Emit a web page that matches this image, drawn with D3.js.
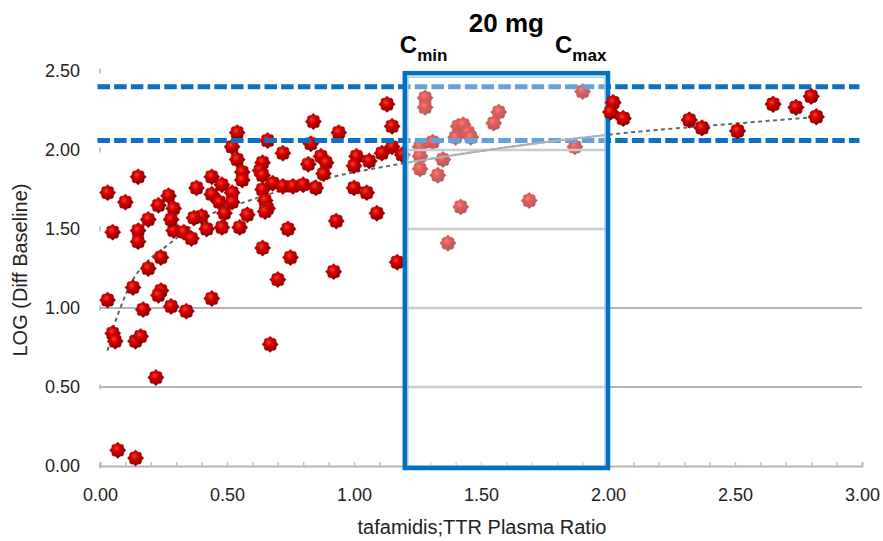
<!DOCTYPE html>
<html>
<head>
<meta charset="utf-8">
<script src="https://cdn.jsdelivr.net/npm/d3@7"></script>
<style>
  body { margin: 0; background: #fff; }
  text { font-family: "Liberation Sans", Arial, sans-serif; }
</style>
</head>
<body>
<div class="canvas"></div>
<script>
// tafamidis:TTR plasma ratio vs LOG(Diff Baseline)
const ratio = [
  0.03, 0.05, 0.03, 0.05, 0.06, 0.07, 0.14, 0.14, 0.16, 0.17, 0.13, 0.24, 0.23, 0.28, 0.34, 0.44,
  0.22, 0.19, 0.24, 0.15, 0.15, 0.29, 0.33, 0.36, 0.42, 0.48, 0.55, 0.15, 0.10, 0.27, 0.23, 0.29,
  0.19, 0.28, 0.38, 0.44, 0.48, 0.44, 0.52, 0.47, 0.52, 0.49, 0.40, 0.37, 0.54, 0.52, 0.54, 0.56,
  0.56, 0.66, 0.84, 0.94, 1.13, 1.15, 1.15, 1.11, 0.83, 0.72, 0.82, 0.87, 0.89, 0.88, 1.01, 1.06,
  1.00, 1.19, 0.64, 0.63, 0.64, 0.68, 0.72, 0.76, 0.80, 0.85, 0.64, 1.00, 1.05, 0.65, 0.66, 0.65,
  0.58, 0.93, 1.09, 0.74, 0.64, 0.75, 0.70, 0.92, 1.17, 0.67,
  1.28, 1.28, 1.57, 1.55, 1.41, 1.43, 1.45, 1.40, 1.46, 1.31, 1.26, 1.26, 1.35, 1.26, 1.33, 1.90,
  1.87, 1.42, 1.69, 1.37,
  2.02, 2.01, 2.06, 2.32, 2.37, 2.51, 2.65, 2.74, 2.80, 2.82
];
const logDiff = [
  1.73, 1.48, 1.05, 0.84, 0.79, 0.10, 0.05, 0.79, 0.82, 0.99, 1.13, 1.11, 1.08, 1.01, 0.98, 1.06,
  0.56, 1.25, 1.32, 1.49, 1.42, 1.49, 1.48, 1.44, 1.50, 1.51, 1.51, 1.83, 1.67, 1.71, 1.65, 1.63,
  1.56, 1.56, 1.76, 1.83, 1.78, 1.72, 1.73, 1.67, 1.67, 1.60, 1.58, 1.57, 2.11, 2.02, 1.94, 1.86,
  1.81, 2.06, 2.18, 2.11, 2.29, 2.15, 2.02, 1.98, 2.04, 1.98, 1.91, 1.96, 1.92, 1.85, 1.96, 1.93,
  1.90, 1.97, 1.92, 1.87, 1.84, 1.79, 1.77, 1.77, 1.78, 1.76, 1.75, 1.76, 1.73, 1.68, 1.63, 1.61,
  1.59, 1.55, 1.60, 1.50, 1.38, 1.32, 1.18, 1.23, 1.29, 0.77,
  2.33, 2.27, 2.24, 2.17, 2.15, 2.16, 2.11, 2.08, 2.08, 2.05, 2.02, 1.96, 1.94, 1.88, 1.84, 2.37,
  2.02, 1.64, 1.68, 1.41,
  2.30, 2.24, 2.20, 2.19, 2.14, 2.12, 2.29, 2.27, 2.34, 2.21
];

// logarithmic trend line
const trendRatio = [0.03, 0.05, 0.08, 0.13, 0.19, 0.26, 0.445, 0.55, 0.89, 1.21, 1.57, 2.02, 2.56, 2.83];
const trendLog   = [0.73, 0.86, 1.00, 1.18, 1.30, 1.39, 1.60, 1.66, 1.82, 1.92, 2.01, 2.10, 2.175, 2.21];

const refLevels = [2.06, 2.40];        // dashed blue reference lines
const doseWindow = [1.2, 2.0];         // 20 mg Cmin .. Cmax
const windowTop = 2.48;

const xTicks = [0, 0.5, 1.0, 1.5, 2.0, 2.5, 3.0];
const yTicks = [0, 0.5, 1.0, 1.5, 2.0, 2.5];
const gridLevels = [0.5, 1.0];
const windowGrid = [0.5, 1.0, 1.5, 2.0];

const width = 883, height = 541;
const svg = d3.select('.canvas')
    .append('svg')
    .attr('width', width)
    .attr('height', height);

const x = d3.scaleLinear().domain([0, 3]).range([100, 862]);
const y = d3.scaleLinear().domain([0, 2.5]).range([466, 71]);
const fmt = d3.format('.2f');

const points = ratio.map((r, i) => ({ r, v: logDiff[i] }));
const trend = trendRatio.map((r, i) => ({ r, v: trendLog[i] }));

// marker gradient
const defs = svg.append('defs');
const grad = defs.append('radialGradient')
    .attr('id', 'gem')
    .attr('cx', '42%').attr('cy', '38%').attr('r', '62%');
grad.append('stop').attr('offset', '0%').attr('stop-color', '#ff3a2a');
grad.append('stop').attr('offset', '35%').attr('stop-color', '#d40000');
grad.append('stop').attr('offset', '75%').attr('stop-color', '#a00000');
grad.append('stop').attr('offset', '100%').attr('stop-color', '#5e0000');

defs.append('clipPath').attr('id', 'win')
  .append('rect')
    .attr('x', x(doseWindow[0]))
    .attr('y', y(windowTop))
    .attr('width', x(doseWindow[1]) - x(doseWindow[0]))
    .attr('height', y(0) - y(windowTop));

const gemPath = 'M0,-8.2L2.4,-6C5,-6.4 6.4,-5 6,-2.4L8.2,0L6,2.4C6.4,5 5,6.4 2.4,6L0,8.2' +
    'L-2.4,6C-5,6.4 -6.4,5 -6,2.4L-8.2,0L-6,-2.4C-6.4,-5 -5,-6.4 -2.4,-6Z';

// gridlines
svg.append('g').selectAll('line')
    .data(gridLevels)
    .enter().append('line')
    .attr('x1', x(0)).attr('x2', x(3))
    .attr('y1', d => y(d)).attr('y2', d => y(d))
    .attr('stroke', '#b4b4b4')
    .attr('stroke-width', 2);

// x axis (minor ticks + labels)
const xMinor = svg.append('g').attr('transform', `translate(0,${y(0)})`)
    .call(d3.axisBottom(x).ticks(30).tickSize(-4).tickFormat(''));
xMinor.select('.domain').attr('stroke', '#b4b4b4').attr('stroke-width', 2);
xMinor.selectAll('.tick line').attr('stroke', '#c0c0c0').attr('stroke-width', 1.5);

const xAxisGroup = svg.append('g').attr('transform', `translate(0,${y(0)})`)
    .call(d3.axisBottom(x).tickValues(xTicks).tickFormat(fmt).tickSize(0).tickPadding(22));
xAxisGroup.select('.domain').remove();
xAxisGroup.selectAll('text')
    .attr('font-size', 18)
    .attr('fill', '#222')
    .style('font-family', '"Liberation Sans", Arial, sans-serif');

// y axis
const yAxisGroup = svg.append('g').attr('transform', `translate(${x(0)},0)`)
    .call(d3.axisLeft(y).tickValues(yTicks).tickFormat(fmt).tickSize(0).tickPadding(20));
yAxisGroup.select('.domain').remove();
yAxisGroup.selectAll('text')
    .attr('font-size', 18)
    .attr('fill', '#222')
    .style('font-family', '"Liberation Sans", Arial, sans-serif');
yAxisGroup.selectAll('.tick').append('line')
    .attr('x1', 0).attr('x2', 0).attr('y1', -3).attr('y2', 2)
    .attr('stroke', '#b4b4b4').attr('stroke-width', 1.5);

// trend line
const line = d3.line()
    .x(d => x(d.r))
    .y(d => y(d.v))
    .curve(d3.curveMonotoneX);

svg.append('path')
    .datum(trend)
    .attr('d', line)
    .attr('fill', 'none')
    .attr('stroke', '#666')
    .attr('stroke-width', 2)
    .attr('stroke-dasharray', '4,3.5');

// points
const drawPoints = (sel, data) => sel.selectAll('path')
    .data(data)
    .enter().append('path')
    .attr('d', gemPath)
    .attr('transform', d => `translate(${x(d.r)},${y(d.v)})`)
    .attr('fill', 'url(#gem)')
    .attr('stroke', '#9a1010')
    .attr('stroke-width', 0.6)
    .attr('stroke-opacity', 0.6);

drawPoints(svg.append('g'), points);

// dashed reference levels
svg.append('g').selectAll('line')
    .data(refLevels)
    .enter().append('line')
    .attr('x1', x(-0.01)).attr('x2', x(2.99))
    .attr('y1', d => y(d)).attr('y2', d => y(d))
    .attr('stroke', '#0f6fc0')
    .attr('stroke-width', 5)
    .attr('stroke-dasharray', '12.5,4.2');

// dose window overlay
const win = svg.append('g');
win.append('rect')
    .attr('x', x(doseWindow[0]))
    .attr('y', y(windowTop))
    .attr('width', x(doseWindow[1]) - x(doseWindow[0]))
    .attr('height', y(0) - y(windowTop))
    .attr('fill', '#fff')
    .attr('fill-opacity', 0.36);

win.selectAll('line.wg')
    .data(windowGrid)
    .enter().append('line')
    .attr('class', 'wg')
    .attr('x1', x(doseWindow[0])).attr('x2', x(doseWindow[1]))
    .attr('y1', d => y(d)).attr('y2', d => y(d))
    .attr('stroke', '#cbcbcb')
    .attr('stroke-width', 2.5);

win.append('path')
    .datum(trend)
    .attr('d', line)
    .attr('clip-path', 'url(#win)')
    .attr('fill', 'none')
    .attr('stroke', '#b0b0b0')
    .attr('stroke-width', 2);

// inner light edge + blue frame
win.append('rect')
    .attr('x', x(doseWindow[0]) + 3)
    .attr('y', y(windowTop) + 3)
    .attr('width', x(doseWindow[1]) - x(doseWindow[0]) - 6)
    .attr('height', y(0) - y(windowTop) - 3)
    .attr('fill', 'none')
    .attr('stroke', '#a9cbe8')
    .attr('stroke-width', 1.5);

win.append('rect')
    .attr('x', x(doseWindow[0]))
    .attr('y', y(windowTop) - 1)
    .attr('width', x(doseWindow[1]) - x(doseWindow[0]))
    .attr('height', y(0) - y(windowTop) + 3)
    .attr('fill', 'none')
    .attr('stroke', '#0070c0')
    .attr('stroke-width', 4.5);

// points just right of the window sit above its frame
drawPoints(svg.append('g'), points.filter(d => d.r > doseWindow[1]));

// window labels
const bold = '"Liberation Sans", Arial, sans-serif';
svg.append('text')
    .attr('x', (x(doseWindow[0]) + x(doseWindow[1])) / 2)
    .attr('y', 32)
    .attr('text-anchor', 'middle')
    .attr('font-size', 26)
    .attr('font-weight', 'bold')
    .style('font-family', bold)
    .text('20 mg');

const cLabel = (xPos, sub) => {
    const t = svg.append('text')
        .attr('x', xPos)
        .attr('y', 53)
        .attr('font-weight', 'bold')
        .style('font-family', bold);
    t.append('tspan').attr('font-size', 24).text('C');
    t.append('tspan').attr('font-size', 17).attr('dy', 8).text(sub);
};
cLabel(x(doseWindow[0]) - 5, 'min');
cLabel(x(doseWindow[1]) - 53, 'max');

// axis titles
svg.append('text')
    .attr('x', 482)
    .attr('y', 534)
    .attr('text-anchor', 'middle')
    .attr('font-size', 20)
    .attr('fill', '#222')
    .text('tafamidis;TTR Plasma Ratio');

svg.append('text')
    .attr('transform', 'translate(27,270) rotate(-90)')
    .attr('text-anchor', 'middle')
    .attr('font-size', 20)
    .attr('fill', '#222')
    .text('LOG (Diff Baseline)');
</script>
</body>
</html>
